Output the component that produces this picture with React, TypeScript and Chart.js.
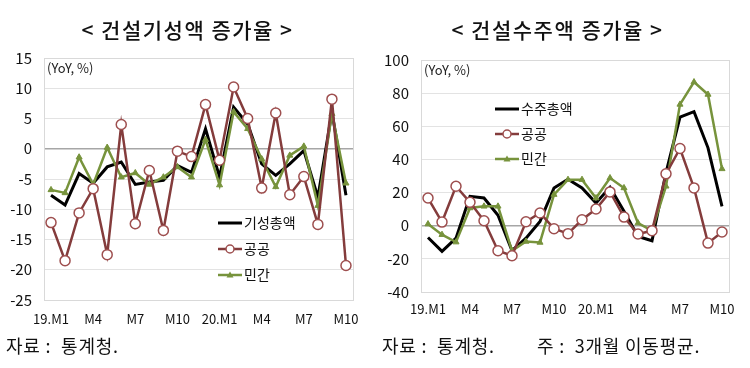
import React, { useEffect, useRef } from 'react';
import { Chart, registerables } from 'chart.js';
Chart.register(...registerables);

const months = ["19.M1", "", "", "M4", "", "", "M7", "", "", "M10", "", "", "20.M1", "", "", "M4", "", "", "M7", "", "", "M10"];

// 건설기성액 증가율 (YoY, %)
const giseongTotal = [-7.7, -9.3, -4.1, -5.7, -3.0, -2.2, -5.9, -5.5, -5.2, -2.8, -3.9, 3.3, -4.7, 6.9, 4.1, -2.5, -4.4, -2.5, -0.3, -8.0, 6.1, -7.7];
const giseongPublic = [-12.2, -18.5, -10.6, -6.6, -17.5, 4.0, -12.4, -3.6, -13.5, -0.4, -1.3, 7.3, -1.9, 10.2, 5.0, -6.5, 5.9, -7.6, -4.6, -12.5, 8.2, -19.3];
const giseongPrivate = [-6.8, -7.3, -1.4, -5.9, 0.2, -4.7, -4.0, -5.9, -4.7, -3.0, -4.7, 1.5, -6.0, 6.1, 3.3, -1.7, -6.3, -1.1, 0.4, -9.4, 5.8, -5.7];

// 건설수주액 증가율 (YoY, %, 3개월 이동평균)
const suzuTotal = [-7.1, -15.5, -7.5, 17.7, 16.7, 6.3, -15.1, -7.5, 2.6, 22.8, 28.0, 22.8, 13.7, 23.2, 8.7, -6.5, -9.1, 32.0, 65.5, 68.8, 47.0, 11.7];
const suzuPublic = [16.7, 2.2, 23.8, 14.1, 3.0, -15.1, -18.1, 2.4, 7.7, -1.8, -4.8, 3.6, 10.1, 20.4, 5.2, -5.0, -3.0, 31.3, 46.6, 22.8, -10.5, -3.8];
const suzuPrivate = [1.0, -5.4, -9.9, 10.7, 11.7, 11.7, -15.1, -9.5, -10.1, 18.8, 27.8, 27.8, 16.7, 28.8, 22.8, 1.6, -3.0, 23.8, 73.2, 86.7, 79.2, 34.3];

const leftYTicks = { min: -25, max: 15, step: 5 };
const rightYTicks = { min: -40, max: 100, step: 20 };

const BLACK = '#000000';
const RED = '#843c3c';
const RED_PT = '#9e4f4f';
const GREEN = '#77933c';
const FONT = '"Noto Sans CJK KR", "Noto Sans", sans-serif';

type LegendItem = { label: string; kind: 'total' | 'public' | 'private'; y: number };

const decorPlugin = {
  id: 'decor',
  beforeDatasetsDraw(chart: any) {
    const { ctx, chartArea } = chart;
    ctx.save();
    ctx.strokeStyle = '#d9d9d9';
    ctx.lineWidth = 1;
    ctx.strokeRect(Math.round(chartArea.left) + 0.5, Math.round(chartArea.top) + 0.5,
      Math.round(chartArea.right - chartArea.left), Math.round(chartArea.bottom - chartArea.top));
    ctx.restore();
  },
  afterDraw(chart: any, _args: any, opts: any) {
    const { ctx, chartArea } = chart;
    ctx.save();
    ctx.fillStyle = '#222';
    ctx.font = `13px ${FONT}`;
    ctx.textBaseline = 'middle';
    ctx.textAlign = 'left';
    ctx.fillText('(YoY, %)', chartArea.left + opts.unitDx, chartArea.top + 10);
    const items: LegendItem[] = opts.items || [];
    ctx.font = `14px ${FONT}`;
    for (const it of items) {
      const x0 = opts.legendX;
      const x1 = x0 + 24;
      ctx.beginPath();
      ctx.moveTo(x0, it.y);
      ctx.lineTo(x1, it.y);
      if (it.kind === 'total') { ctx.strokeStyle = BLACK; ctx.lineWidth = 3; }
      else if (it.kind === 'public') { ctx.strokeStyle = RED; ctx.lineWidth = 2.5; }
      else { ctx.strokeStyle = GREEN; ctx.lineWidth = 2.5; }
      ctx.stroke();
      const cx = (x0 + x1) / 2;
      if (it.kind === 'public') {
        ctx.beginPath();
        ctx.arc(cx, it.y, 4, 0, Math.PI * 2);
        ctx.fillStyle = '#fff';
        ctx.fill();
        ctx.lineWidth = 1.5;
        ctx.strokeStyle = RED_PT;
        ctx.stroke();
      } else if (it.kind === 'private') {
        ctx.beginPath();
        ctx.moveTo(cx, it.y - 3.5);
        ctx.lineTo(cx + 3.5, it.y + 2.5);
        ctx.lineTo(cx - 3.5, it.y + 2.5);
        ctx.closePath();
        ctx.fillStyle = GREEN;
        ctx.fill();
      }
      ctx.fillStyle = '#111';
      ctx.fillText(it.label, x1 + 2, it.y);
    }
    ctx.restore();
  },
};

function makeConfig(total: number[], pub: number[], priv: number[], yt: { min: number; max: number; step: number },
  layout: { left: number; right: number; top: number; bottom: number; yW: number; xH: number; xPad: number },
  legend: any) {
  return {
    type: 'line' as const,
    data: {
      labels: months,
      datasets: [
        { label: 'total', data: total, borderColor: BLACK, borderWidth: 3, pointRadius: 0, tension: 0, order: 2 },
        {
          label: 'public', data: pub, borderColor: RED, borderWidth: 2.5, pointRadius: 5, pointStyle: 'circle',
          pointBackgroundColor: '#ffffff', pointBorderColor: RED_PT, pointBorderWidth: 1.5, tension: 0, order: 0,
        },
        {
          label: 'private', data: priv, borderColor: GREEN, borderWidth: 2.5, pointRadius: 3.5, pointStyle: 'triangle',
          pointBackgroundColor: GREEN, pointBorderColor: GREEN, pointBorderWidth: 1, tension: 0, order: 1,
        },
      ],
    },
    options: {
      animation: false,
      responsive: false,
      maintainAspectRatio: false,
      layout: { padding: { left: layout.left, right: layout.right, top: layout.top, bottom: layout.bottom } },
      plugins: { legend: { display: false }, tooltip: { enabled: false }, decor: legend },
      scales: {
        x: {
          type: 'category',
          offset: true,
          grid: { display: false, drawTicks: false },
          border: { display: false },
          ticks: {
            autoSkip: false, maxRotation: 0, minRotation: 0, padding: layout.xPad,
            color: '#111', font: { family: FONT, size: 13 },
          },
          afterFit: (axis: any) => { axis.height = layout.xH; },
        },
        y: {
          min: yt.min, max: yt.max,
          grid: {
            drawTicks: false,
            color: (c: any) => (c.tick && c.tick.value === 0 ? '#a6a6a6' : '#e3e3e3'),
            lineWidth: (c: any) => (c.tick && c.tick.value === 0 ? 1.5 : 1),
          },
          border: { display: true, color: '#c8c8c8', width: 1 },
          ticks: { stepSize: yt.step, padding: 12, color: '#111', font: { family: FONT, size: 15 } },
          afterFit: (axis: any) => { axis.width = layout.yW; },
        },
      },
    },
    plugins: [decorPlugin],
  };
}

export default function App() {
  const leftRef = useRef<HTMLCanvasElement>(null);
  const rightRef = useRef<HTMLCanvasElement>(null);

  useEffect(() => {
    const c1 = new Chart(leftRef.current as HTMLCanvasElement, makeConfig(
      giseongTotal, giseongPublic, giseongPrivate, leftYTicks,
      { left: 0, right: 22, top: 58, bottom: 38, yW: 44, xH: 30, xPad: 11 },
      {
        unitDx: 3, legendX: 218,
        items: [
          { label: '기성총액', kind: 'total', y: 223 },
          { label: '공공', kind: 'public', y: 249 },
          { label: '민간', kind: 'private', y: 275 },
        ],
      }) as any);
    const c2 = new Chart(rightRef.current as HTMLCanvasElement, makeConfig(
      suzuTotal, suzuPublic, suzuPrivate, rightYTicks,
      { left: 0, right: 21, top: 60, bottom: 46, yW: 46, xH: 30, xPad: 9 },
      {
        unitDx: 3, legendX: 120,
        items: [
          { label: '수주총액', kind: 'total', y: 109 },
          { label: '공공', kind: 'public', y: 134 },
          { label: '민간', kind: 'private', y: 159 },
        ],
      }) as any);
    return () => { c1.destroy(); c2.destroy(); };
  }, []);

  const titleStyle: React.CSSProperties = {
    position: 'absolute', top: 15, width: 375, textAlign: 'center', fontFamily: FONT,
    fontSize: 21, fontWeight: 500, letterSpacing: '1.5px', color: '#111', lineHeight: '28px', whiteSpace: 'pre',
  };
  const footStyle: React.CSSProperties = {
    position: 'absolute', top: 332, fontFamily: FONT, fontSize: 18, letterSpacing: '0.8px', color: '#111', lineHeight: '26px', whiteSpace: 'pre',
  };

  return (
    <div style={{ position: 'absolute', left: 0, top: 0, width: 750, height: 368, background: '#fff', overflow: 'hidden' }}>
      <canvas ref={leftRef} width={375} height={368} style={{ position: 'absolute', left: 0, top: 0, width: 375, height: 368 }} />
      <canvas ref={rightRef} width={375} height={368} style={{ position: 'absolute', left: 375, top: 0, width: 375, height: 368 }} />
      <div style={{ ...titleStyle, left: 0 }}>{'< 건설기성액 증가율 >'}</div>
      <div style={{ ...titleStyle, left: 370 }}>{'< 건설수주액 증가율 >'}</div>
      <div style={{ ...footStyle, left: 6 }}>{'자료 :  통계청.'}</div>
      <div style={{ ...footStyle, left: 382 }}>{'자료 :  통계청.'}</div>
      <div style={{ ...footStyle, left: 537 }}>{'주 :  3개월 이동평균.'}</div>
    </div>
  );
}
